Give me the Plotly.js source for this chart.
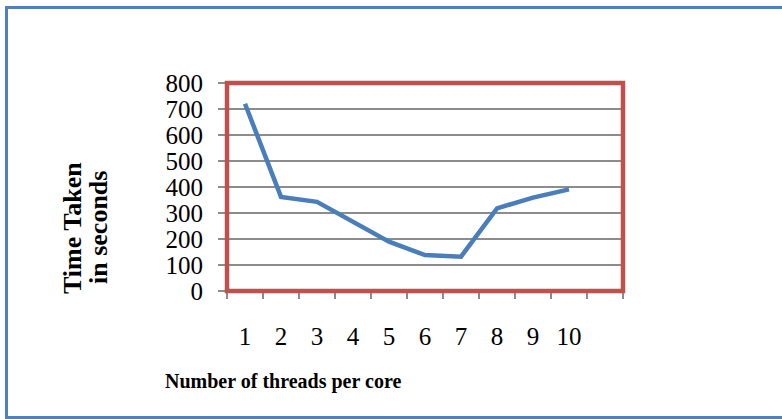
<!DOCTYPE html>
<html>
<head>
<meta charset="utf-8">
<script src="https://cdn.plot.ly/plotly-3.0.1.min.js"></script>
<style>
  html, body { margin: 0; padding: 0; background: #ffffff; }
  #wrap { position: relative; width: 782px; height: 419px; overflow: hidden; }
  #frame {
    position: absolute; left: 5px; top: 6px; width: 820px; height: 413px;
    border: 3px solid #4f81bd; box-sizing: border-box;
  }
  #chart { position: absolute; left: 0; top: 0; width: 782px; height: 419px; }
</style>
</head>
<body>
<div id="wrap">
  <div id="frame"></div>
  <div id="chart"></div>
</div>
<script>
// Threads per core and the measured run time for each
const threads = [1, 2, 3, 4, 5, 6, 7, 8, 9, 10];
const timeSeconds = [720, 362, 343, 265, 190, 138, 132, 318, 359, 391];
const threadLabels = ['1', '2', '3', '4', '5', '6', '7', '8', '9', '10'];
// Category boundaries for the tick marks (one spare slot on the right)
const slotEdges = [0.5, 1.5, 2.5, 3.5, 4.5, 5.5, 6.5, 7.5, 8.5, 9.5, 10.5, 11.5];
const yTicks = [0, 100, 200, 300, 400, 500, 600, 700, 800];

const serif = '"Liberation Serif", "Times New Roman", serif';

// Visible line (labelled axis) plus a transparent copy that keeps the
// boundary-tick axis alive.
const traces = [
  {
    x: threads,
    y: timeSeconds,
    xaxis: 'x',
    yaxis: 'y',
    type: 'scatter',
    mode: 'lines',
    line: { color: 'rgba(0,0,0,0)', width: 0 },
    hoverinfo: 'skip'
  },
  {
    x: threads,
    y: timeSeconds,
    xaxis: 'x2',
    yaxis: 'y',
    type: 'scatter',
    mode: 'lines',
    line: { color: '#4a7ebb', width: 4.5 },
    hoverinfo: 'x+y'
  }
];

const layout = {
  width: 782,
  height: 419,
  margin: { l: 227, r: 159, t: 83, b: 128 },
  paper_bgcolor: 'rgba(0,0,0,0)',
  plot_bgcolor: '#ffffff',
  showlegend: false,
  font: { family: serif, color: '#000000' },
  xaxis: {
    range: [0.5, 11.5],
    tickvals: slotEdges,
    showticklabels: false,
    ticks: 'outside',
    ticklen: 7,
    tickwidth: 1.5,
    tickcolor: '#8c8c8c',
    showgrid: false,
    zeroline: false,
    showline: false,
    fixedrange: true
  },
  xaxis2: {
    overlaying: 'x',
    anchor: 'y',
    side: 'bottom',
    range: [0.5, 11.5],
    tickvals: threads,
    ticktext: threadLabels,
    ticks: '',
    ticklabelstandoff: 28,
    tickfont: { family: serif, size: 25, color: '#000000' },
    showgrid: false,
    zeroline: false,
    showline: false,
    fixedrange: true
  },
  yaxis: {
    range: [0, 800],
    tickvals: yTicks,
    ticks: 'outside',
    ticklen: 8,
    tickwidth: 1.5,
    tickcolor: '#8c8c8c',
    ticklabelstandoff: 10,
    tickfont: { family: serif, size: 25, color: '#000000' },
    showgrid: true,
    gridcolor: '#8c8c8c',
    gridwidth: 1.5,
    zeroline: false,
    showline: false,
    fixedrange: true
  },
  shapes: [{
    type: 'rect',
    xref: 'paper', yref: 'paper',
    x0: 0, x1: 1, y0: 0, y1: 1,
    line: { color: '#c0504d', width: 4.5 },
    fillcolor: 'rgba(0,0,0,0)',
    layer: 'above'
  }],
  annotations: [
    {
      text: '<b>Time Taken</b>',
      xref: 'paper', yref: 'paper',
      x: (72 - 227) / 396, y: (291 - 228) / 208,
      xanchor: 'center', yanchor: 'middle',
      textangle: -90, showarrow: false,
      font: { family: serif, size: 26, color: '#000000' }
    },
    {
      text: '<b>in seconds</b>',
      xref: 'paper', yref: 'paper',
      x: (98 - 227) / 396, y: (291 - 228) / 208,
      xanchor: 'center', yanchor: 'middle',
      textangle: -90, showarrow: false,
      font: { family: serif, size: 26, color: '#000000' }
    },
    {
      text: '<b>Number of threads per core</b>',
      xref: 'paper', yref: 'paper',
      x: (283 - 227) / 396, y: (291 - 381) / 208,
      xanchor: 'center', yanchor: 'middle',
      showarrow: false,
      font: { family: serif, size: 20, color: '#000000' }
    }
  ]
};

Plotly.newPlot('chart', traces, layout, { displayModeBar: false, staticPlot: true });
</script>
</body>
</html>
